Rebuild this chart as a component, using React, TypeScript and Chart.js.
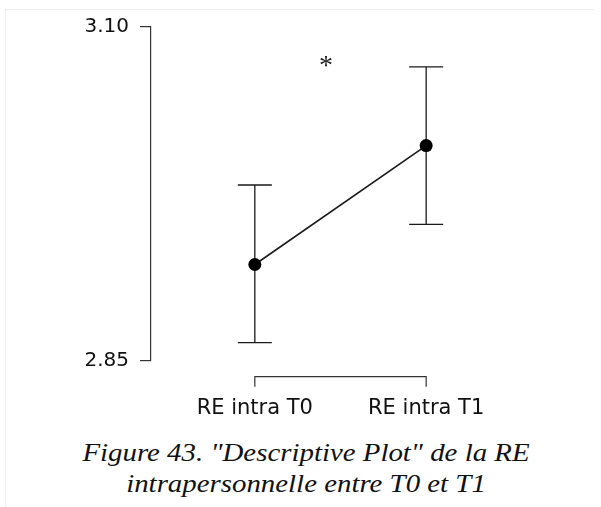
import React, { useEffect, useRef } from "react";
import { Chart, registerables } from "chart.js";

Chart.register(...registerables);

const categories = ["RE intra T0", "RE intra T1"];
const xPositions = [1, 2];
const means = [2.922, 3.011];
const lowerCI = [2.8635, 2.952];
const upperCI = [2.9815, 3.07];
const yTicks = [2.85, 3.1];
const yMin = 2.85;
const yMax = 3.1;
const sigLabel = "*";
const sigX = 1.415;
const sigY = 3.074;
const captionLines = [
  'Figure 43. "Descriptive Plot" de la RE',
  "intrapersonnelle entre T0 et T1",
];

const INK = "#1a1a1a";

const errorBarPlugin = {
  id: "errorBars",
  beforeDatasetsDraw(chart: any) {
    const { ctx, scales } = chart;
    const xs = scales.x;
    const ys = scales.y;
    ctx.save();
    ctx.strokeStyle = INK;
    ctx.lineWidth = 1.3;
    xPositions.forEach((xv, i) => {
      const px = xs.getPixelForValue(xv);
      const top = ys.getPixelForValue(upperCI[i]);
      const bot = ys.getPixelForValue(lowerCI[i]);
      const cap = 17;
      ctx.beginPath();
      ctx.moveTo(px, top);
      ctx.lineTo(px, bot);
      ctx.moveTo(px - cap, top);
      ctx.lineTo(px + cap, top);
      ctx.moveTo(px - cap, bot);
      ctx.lineTo(px + cap, bot);
      ctx.stroke();
    });
    ctx.restore();
  },
  afterDraw(chart: any) {
    const { ctx, scales, chartArea } = chart;
    const xs = scales.x;
    const ys = scales.y;
    // x-axis bracket (R style, detached from plot)
    const x0 = xs.getPixelForValue(xPositions[0]);
    const x1 = xs.getPixelForValue(xPositions[xPositions.length - 1]);
    const yb = chartArea.bottom + 16;
    ctx.save();
    ctx.strokeStyle = "#333";
    ctx.lineWidth = 1.2;
    ctx.beginPath();
    ctx.moveTo(x0, yb + 10);
    ctx.lineTo(x0, yb);
    ctx.lineTo(x1, yb);
    ctx.lineTo(x1, yb + 10);
    ctx.stroke();
    // significance marker
    const mx = xs.getPixelForValue(sigX);
    const my = ys.getPixelForValue(sigY);
    ctx.font = "28px 'Liberation Serif'";
    ctx.fillStyle = "#222";
    ctx.textAlign = "center";
    ctx.textBaseline = "alphabetic";
    const m = ctx.measureText(sigLabel);
    const off = (m.actualBoundingBoxAscent - m.actualBoundingBoxDescent) / 2;
    ctx.fillText(sigLabel, mx, my + off);
    ctx.restore();
  },
};

export default function App() {
  const ref = useRef<HTMLCanvasElement | null>(null);

  useEffect(() => {
    if (!ref.current) return;
    const chart = new Chart(ref.current, {
      type: "line",
      data: {
        datasets: [
          {
            data: xPositions.map((x, i) => ({ x, y: means[i] })),
            borderColor: INK,
            borderWidth: 1.6,
            pointRadius: 6.5,
            pointBackgroundColor: "#000",
            pointBorderWidth: 0,
            clip: false as any,
          },
        ],
      },
      options: {
        animation: false,
        responsive: false,
        devicePixelRatio: 1,
        layout: { padding: { top: 26.7, right: 71, bottom: 0, left: 0 } },
        plugins: {
          legend: { display: false },
          tooltip: { enabled: false },
        },
        scales: {
          x: {
            type: "linear",
            min: 0.394,
            max: 2.606,
            grid: { display: false },
            border: { display: false },
            afterBuildTicks: (s: any) => {
              s.ticks = xPositions.map((v) => ({ value: v }));
            },
            afterFit: (s: any) => {
              s.height = 69.3;
            },
            ticks: {
              autoSkip: false,
              maxRotation: 0,
              padding: 27,
              color: "#111",
              font: { family: "'DejaVu Sans'", size: 21 },
              callback: (v: any) => categories[xPositions.indexOf(Number(v))] ?? "",
            },
          },
          y: {
            type: "linear",
            min: yMin,
            max: yMax,
            afterBuildTicks: (s: any) => {
              s.ticks = yTicks.map((v) => ({ value: v }));
            },
            afterFit: (s: any) => {
              s.width = 151;
            },
            grid: {
              drawOnChartArea: false,
              drawTicks: true,
              tickLength: 11,
              color: "#333",
              lineWidth: 1.2,
            },
            border: { display: true, color: "#333", width: 1.2 },
            ticks: {
              padding: 11,
              color: "#111",
              font: { family: "'DejaVu Sans'", size: 20 },
              callback: (v: any) => Number(v).toFixed(2),
            },
          },
        },
      },
      plugins: [errorBarPlugin],
    });
    return () => chart.destroy();
  }, []);

  return (
    <div style={{ position: "absolute", left: 0, top: 0, width: 601, height: 507, background: "#fff", overflow: "hidden" }}>
      <div
        style={{
          position: "absolute",
          left: 5,
          top: 9,
          width: 588,
          height: 500,
          borderTop: "1px solid #ededed",
          borderLeft: "1px solid #ededed",
        }}
      />
      <canvas ref={ref} width={601} height={430} style={{ position: "absolute", left: 0, top: 0, width: 601, height: 430 }} />
      <div
        style={{
          position: "absolute",
          left: 0,
          top: 437,
          width: 612,
          textAlign: "center",
          fontFamily: "'Liberation Serif', 'Times New Roman', serif",
          fontStyle: "italic",
          fontSize: 26,
          lineHeight: "31px",
          color: "#111",
          whiteSpace: "nowrap",
          transform: "scaleX(1.11)",
          transformOrigin: "306px 0",
        }}
      >
        {captionLines.map((l, i) => (
          <div key={i}>{l}</div>
        ))}
      </div>
    </div>
  );
}
